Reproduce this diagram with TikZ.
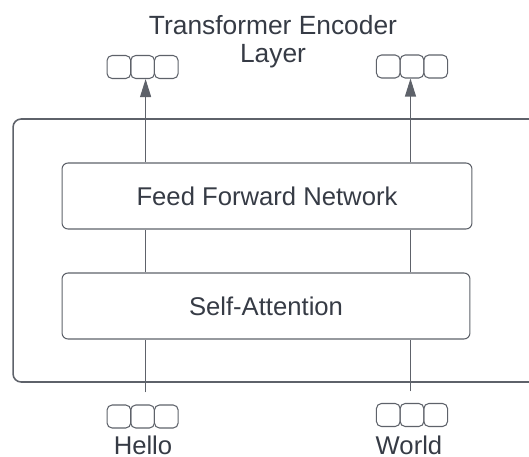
\documentclass[tikz,border=0pt]{standalone}
\usepackage{fontspec}
\setmainfont{Liberation Sans}
\usetikzlibrary{arrows.meta}
\definecolor{encink}{HTML}{363B45}
\definecolor{encline}{HTML}{5E626A}

\begin{document}
\begin{tikzpicture}[
  x=0.02cm,
  y=-0.02cm,
  every node/.style={font=\fontsize{14.6}{15.9}\selectfont, encink},
  cell/.style={draw=encline, line width=0.6pt, rounded corners=0.1cm,
    minimum width=0.474cm, minimum height=0.46cm, inner sep=0pt},
  block/.style={draw=encline, line width=0.6pt, rounded corners=0.12cm,
    minimum height=1.32cm, inner sep=0pt},
  link/.style={encline, line width=0.6pt},
  flow/.style={encline, line width=0.6pt, -{Triangle[length=0.36cm, width=0.22cm]}}
]
  \useasboundingbox (0,0) rectangle (529,457);
  \clip (0,0) rectangle (529,457);

  % ---- the layer frame, running off the right edge --------------------
  \node[draw=encline, line width=0.9pt, rounded corners=0.16cm,
    minimum width=11.74cm, minimum height=5.26cm, inner sep=0pt]
    (layer) at (306.5,250.5) {};
  \node[align=center, inner sep=0pt,
    font=\fontsize{15}{15.9}\selectfont] (title) at (273,42)
    {Transformer Encoder\\Layer};

  % ---- the two sublayers ----------------------------------------------
  \node[block, minimum width=8.2cm] (ffn) at (267,196) {Feed Forward Network};
  \node[block, minimum width=8.16cm] (attn) at (266,306) {Self-Attention};

  % ---- token vectors, in and out --------------------------------------
  \foreach \i/\dx in {1/0, 2/23.7, 3/47.4} {
    \node[cell] (hin\i)  at (118.9+\dx,416.5) {};
    \node[cell] (win\i)  at (388.3+\dx,415) {};
    \node[cell] (hout\i) at (118.9+\dx,67) {};
    \node[cell] (wout\i) at (388.3+\dx,66.5) {};
  }
  \node[inner sep=0pt] (hello) at (143,445) {Hello};
  \node[inner sep=0pt] (world) at (409,445) {World};

  % ---- Hello column ---------------------------------------------------
  \coordinate (hbot) at ([xshift=0.06cm, yshift=0.24cm]hin2.north);
  \draw[link] (hbot) -- (hbot |- attn.south);
  \draw[link] (hbot |- attn.north) -- (hbot |- ffn.south);
  \draw[flow] (hbot |- ffn.north) -- (hbot |- hout2.south);

  % ---- World column ---------------------------------------------------
  \coordinate (wbot) at ([xshift=-0.03cm, yshift=0.23cm]win2.north);
  \draw[link] (wbot) -- (wbot |- attn.south);
  \draw[link] (wbot |- attn.north) -- (wbot |- ffn.south);
  \draw[flow] (wbot |- ffn.north) -- (wbot |- wout2.south);
\end{tikzpicture}
\end{document}
